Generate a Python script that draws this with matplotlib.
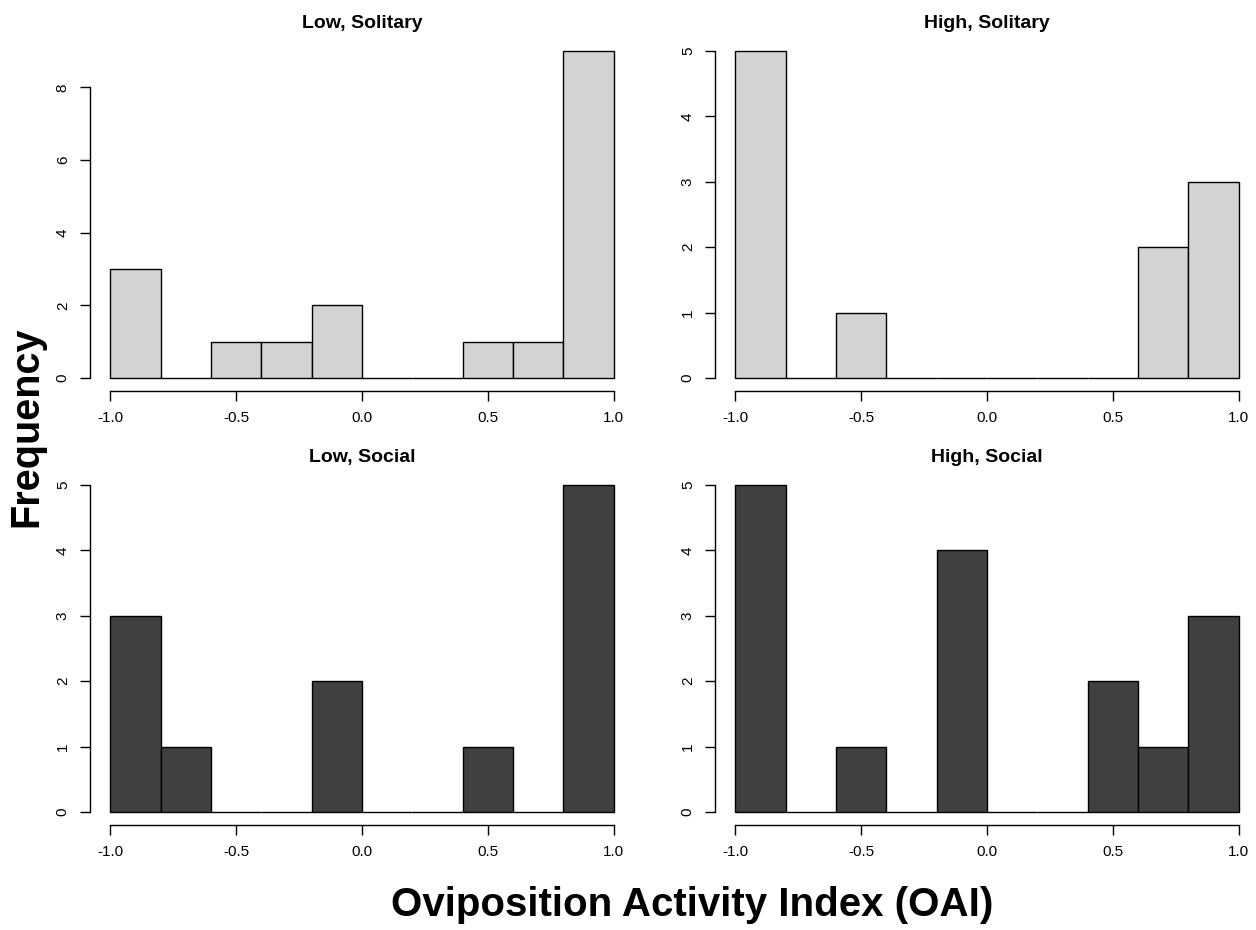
import numpy as np
import matplotlib
matplotlib.use("Agg")
from matplotlib import pyplot as plt

plt.rcParams['font.family'] = ['Liberation Sans', 'DejaVu Sans']

# histogram bins for the OAI, -1 to 1 in steps of 0.2
bin_edges = np.round(np.arange(-1.0, 1.01, 0.2), 2)

low_solitary = [3, 0, 1, 1, 2, 0, 0, 1, 1, 9]
high_solitary = [5, 0, 1, 0, 0, 0, 0, 0, 2, 3]
low_social = [3, 1, 0, 0, 2, 0, 0, 1, 0, 5]
high_social = [5, 0, 1, 0, 4, 0, 0, 2, 1, 3]

titles = ["Low, Solitary", "High, Solitary", "Low, Social", "High, Social"]
x_ticks = [-1.0, -0.5, 0.0, 0.5, 1.0]

W, H = 1256, 930
fig = plt.figure(figsize=(W / 100, H / 100), dpi=100)


def make_axes(left, top, right, bottom):
    return fig.add_axes([left / W, 1 - bottom / H, (right - left) / W, (bottom - top) / H])


panels = [
    (make_axes(90, 38, 634, 391), low_solitary, '#d3d3d3', titles[0], [0, 2, 4, 6, 8]),
    (make_axes(715, 38, 1259, 391), high_solitary, '#d3d3d3', titles[1], [0, 1, 2, 3, 4, 5]),
    (make_axes(90, 472, 634, 825), low_social, '#404040', titles[2], [0, 1, 2, 3, 4, 5]),
    (make_axes(715, 472, 1259, 825), high_social, '#404040', titles[3], [0, 1, 2, 3, 4, 5]),
]

for ax, counts, colour, title, y_ticks in panels:
    widths = np.diff(bin_edges)
    ax.bar(bin_edges[:-1], counts, width=widths, align='edge',
           color=colour, edgecolor='black', linewidth=1.0)
    top = max(counts)
    ax.set_xlim(-1.08, 1.08)
    ax.set_ylim(-0.04 * top, 1.04 * top)
    # base-graphics look: axes detached from the bars
    for side in ['top', 'right']:
        ax.spines[side].set_visible(False)
    ax.spines['left'].set_bounds(y_ticks[0], y_ticks[-1])
    ax.spines['bottom'].set_bounds(-1.0, 1.0)
    for sp in ['left', 'bottom']:
        ax.spines[sp].set_linewidth(1.0)
    ax.set_yticks(y_ticks)
    ax.set_yticklabels([str(v) for v in y_ticks], rotation=90, va='center')
    ax.set_xticks(x_ticks)
    ax.set_xticklabels(["%.1f" % v for v in x_ticks])
    ax.tick_params(axis='both', length=7.5, width=1.0, labelsize=11, pad=7, colors='black')
    ax.set_title(title, fontsize=14, fontweight='bold', pad=7.5)
    ax.patch.set_visible(False)

fig.text(26 / W, 1 - 427 / H, "Frequency", rotation=90, fontsize=28.5, fontweight='bold',
         ha='center', va='center')
fig.text(692 / W, 1 - 905 / H, "Oviposition Activity Index (OAI)", fontsize=29,
         fontweight='bold', ha='center', va='center')

fig.savefig("out.png", dpi=100)
